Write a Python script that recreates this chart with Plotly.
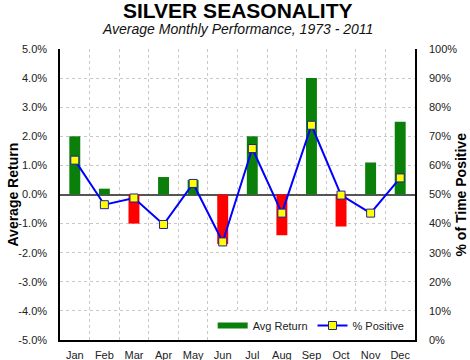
import plotly.graph_objects as go

months = ["Jan", "Feb", "Mar", "Apr", "May", "Jun", "Jul", "Aug", "Sep", "Oct", "Nov", "Dec"]
avg_return = [2.0, 0.2, -1.0, 0.6, 0.5, -1.7, 2.0, -1.4, 4.0, -1.1, 1.1, 2.5]
pct_positive = [61.8, 46.5, 48.8, 39.7, 53.8, 33.7, 65.8, 43.6, 73.8, 49.8, 43.6, 55.7]
left_ticks = [-5, -4, -3, -2, -1, 0, 1, 2, 3, 4, 5]
right_ticks = [0, 10, 20, 30, 40, 50, 60, 70, 80, 90, 100]

FONT = "Arial, Liberation Sans, sans-serif"
GREEN = "#0A800A"
RED = "#FF0000"
bar_colors = [GREEN if v >= 0 else RED for v in avg_return]

fig = go.Figure()
fig.add_trace(go.Bar(
    x=months, y=avg_return, name="Avg Return",
    marker=dict(color=bar_colors, line=dict(width=0)),
    width=0.37, yaxis="y", showlegend=False,
))
# legend-only entry to mimic the wide green rectangle legend symbol
fig.add_trace(go.Scatter(
    x=[None], y=[None], name="Avg Return", mode="lines",
    line=dict(color=GREEN, width=6), yaxis="y",
))
fig.add_trace(go.Scatter(
    x=months, y=pct_positive, name="% Positive", yaxis="y2",
    mode="lines+markers",
    line=dict(color="#0000FF", width=2),
    marker=dict(symbol="square", size=8, color="#FFFF00", line=dict(color="#2020A0", width=1)),
))

fig.update_layout(
    width=470, height=360,
    margin=dict(l=60, r=55, t=49, b=20, autoexpand=False),
    paper_bgcolor="white", plot_bgcolor="white",
    font=dict(family=FONT, size=11, color="#222222"),
    showlegend=True,
    legend=dict(orientation="h", x=0.985, xanchor="right", y=0.0, yanchor="bottom",
                bgcolor="white", font=dict(size=11, color="#222222"),
                itemwidth=30, tracegroupgap=0, borderwidth=0),
    xaxis=dict(type="category", range=[-0.5, 11.5], tickson="boundaries",
               showgrid=True, gridcolor="#C8C8C8", griddash="dot", gridwidth=1,
               ticks="", tickangle=0, automargin=False,
               showline=True, linecolor="#000000", linewidth=1.5, mirror=False,
               ticklabelstandoff=4,
               tickfont=dict(size=11, color="#222222")),
    yaxis=dict(range=[-5, 5], tickvals=left_ticks,
               ticktext=[f"{v:.1f}%" for v in left_ticks],
               showgrid=True, gridcolor="#C8C8C8", griddash="dot", gridwidth=1,
               zeroline=True, zerolinecolor="#555555", zerolinewidth=1.5,
               showline=True, linecolor="#000000", linewidth=1.5,
               ticks="", automargin=False, ticklabelstandoff=9,
               tickfont=dict(size=11, color="#222222")),
    yaxis2=dict(range=[0, 100], overlaying="y", side="right", tickvals=right_ticks,
                ticktext=[f"{v}%" for v in right_ticks],
                showgrid=False, zeroline=False, ticks="", automargin=False,
                showline=True, linecolor="#000000", linewidth=1.5, ticklabelstandoff=10,
                tickfont=dict(size=11, color="#222222")),
)
fig.add_annotation(text="<b>SILVER SEASONALITY</b>", xref="paper", yref="paper",
                   x=0.5, y=1.0, yshift=39, xanchor="center", yanchor="middle", showarrow=False,
                   font=dict(size=21, color="#000000", family=FONT))
fig.add_annotation(text="<i>Average Monthly Performance, 1973 - 2011</i>", xref="paper", yref="paper",
                   x=0.5, y=1.0, yshift=20, xanchor="center", yanchor="middle", showarrow=False,
                   font=dict(size=14, color="#111111", family=FONT))
fig.add_annotation(text="<b>Average Return</b>", xref="paper", yref="paper",
                   x=0.0, xshift=-48, y=0.5, xanchor="center", yanchor="middle",
                   textangle=-90, showarrow=False,
                   font=dict(size=14, color="#000000", family=FONT))
fig.add_annotation(text="<b>% of Time Positive</b>", xref="paper", yref="paper",
                   x=1.0, xshift=45, y=0.5, xanchor="center", yanchor="middle",
                   textangle=-90, showarrow=False,
                   font=dict(size=14, color="#000000", family=FONT))

fig.write_html("out.html", config={"displayModeBar": False},
               post_script="document.body.style.margin='0px';document.body.style.overflow='hidden';")
